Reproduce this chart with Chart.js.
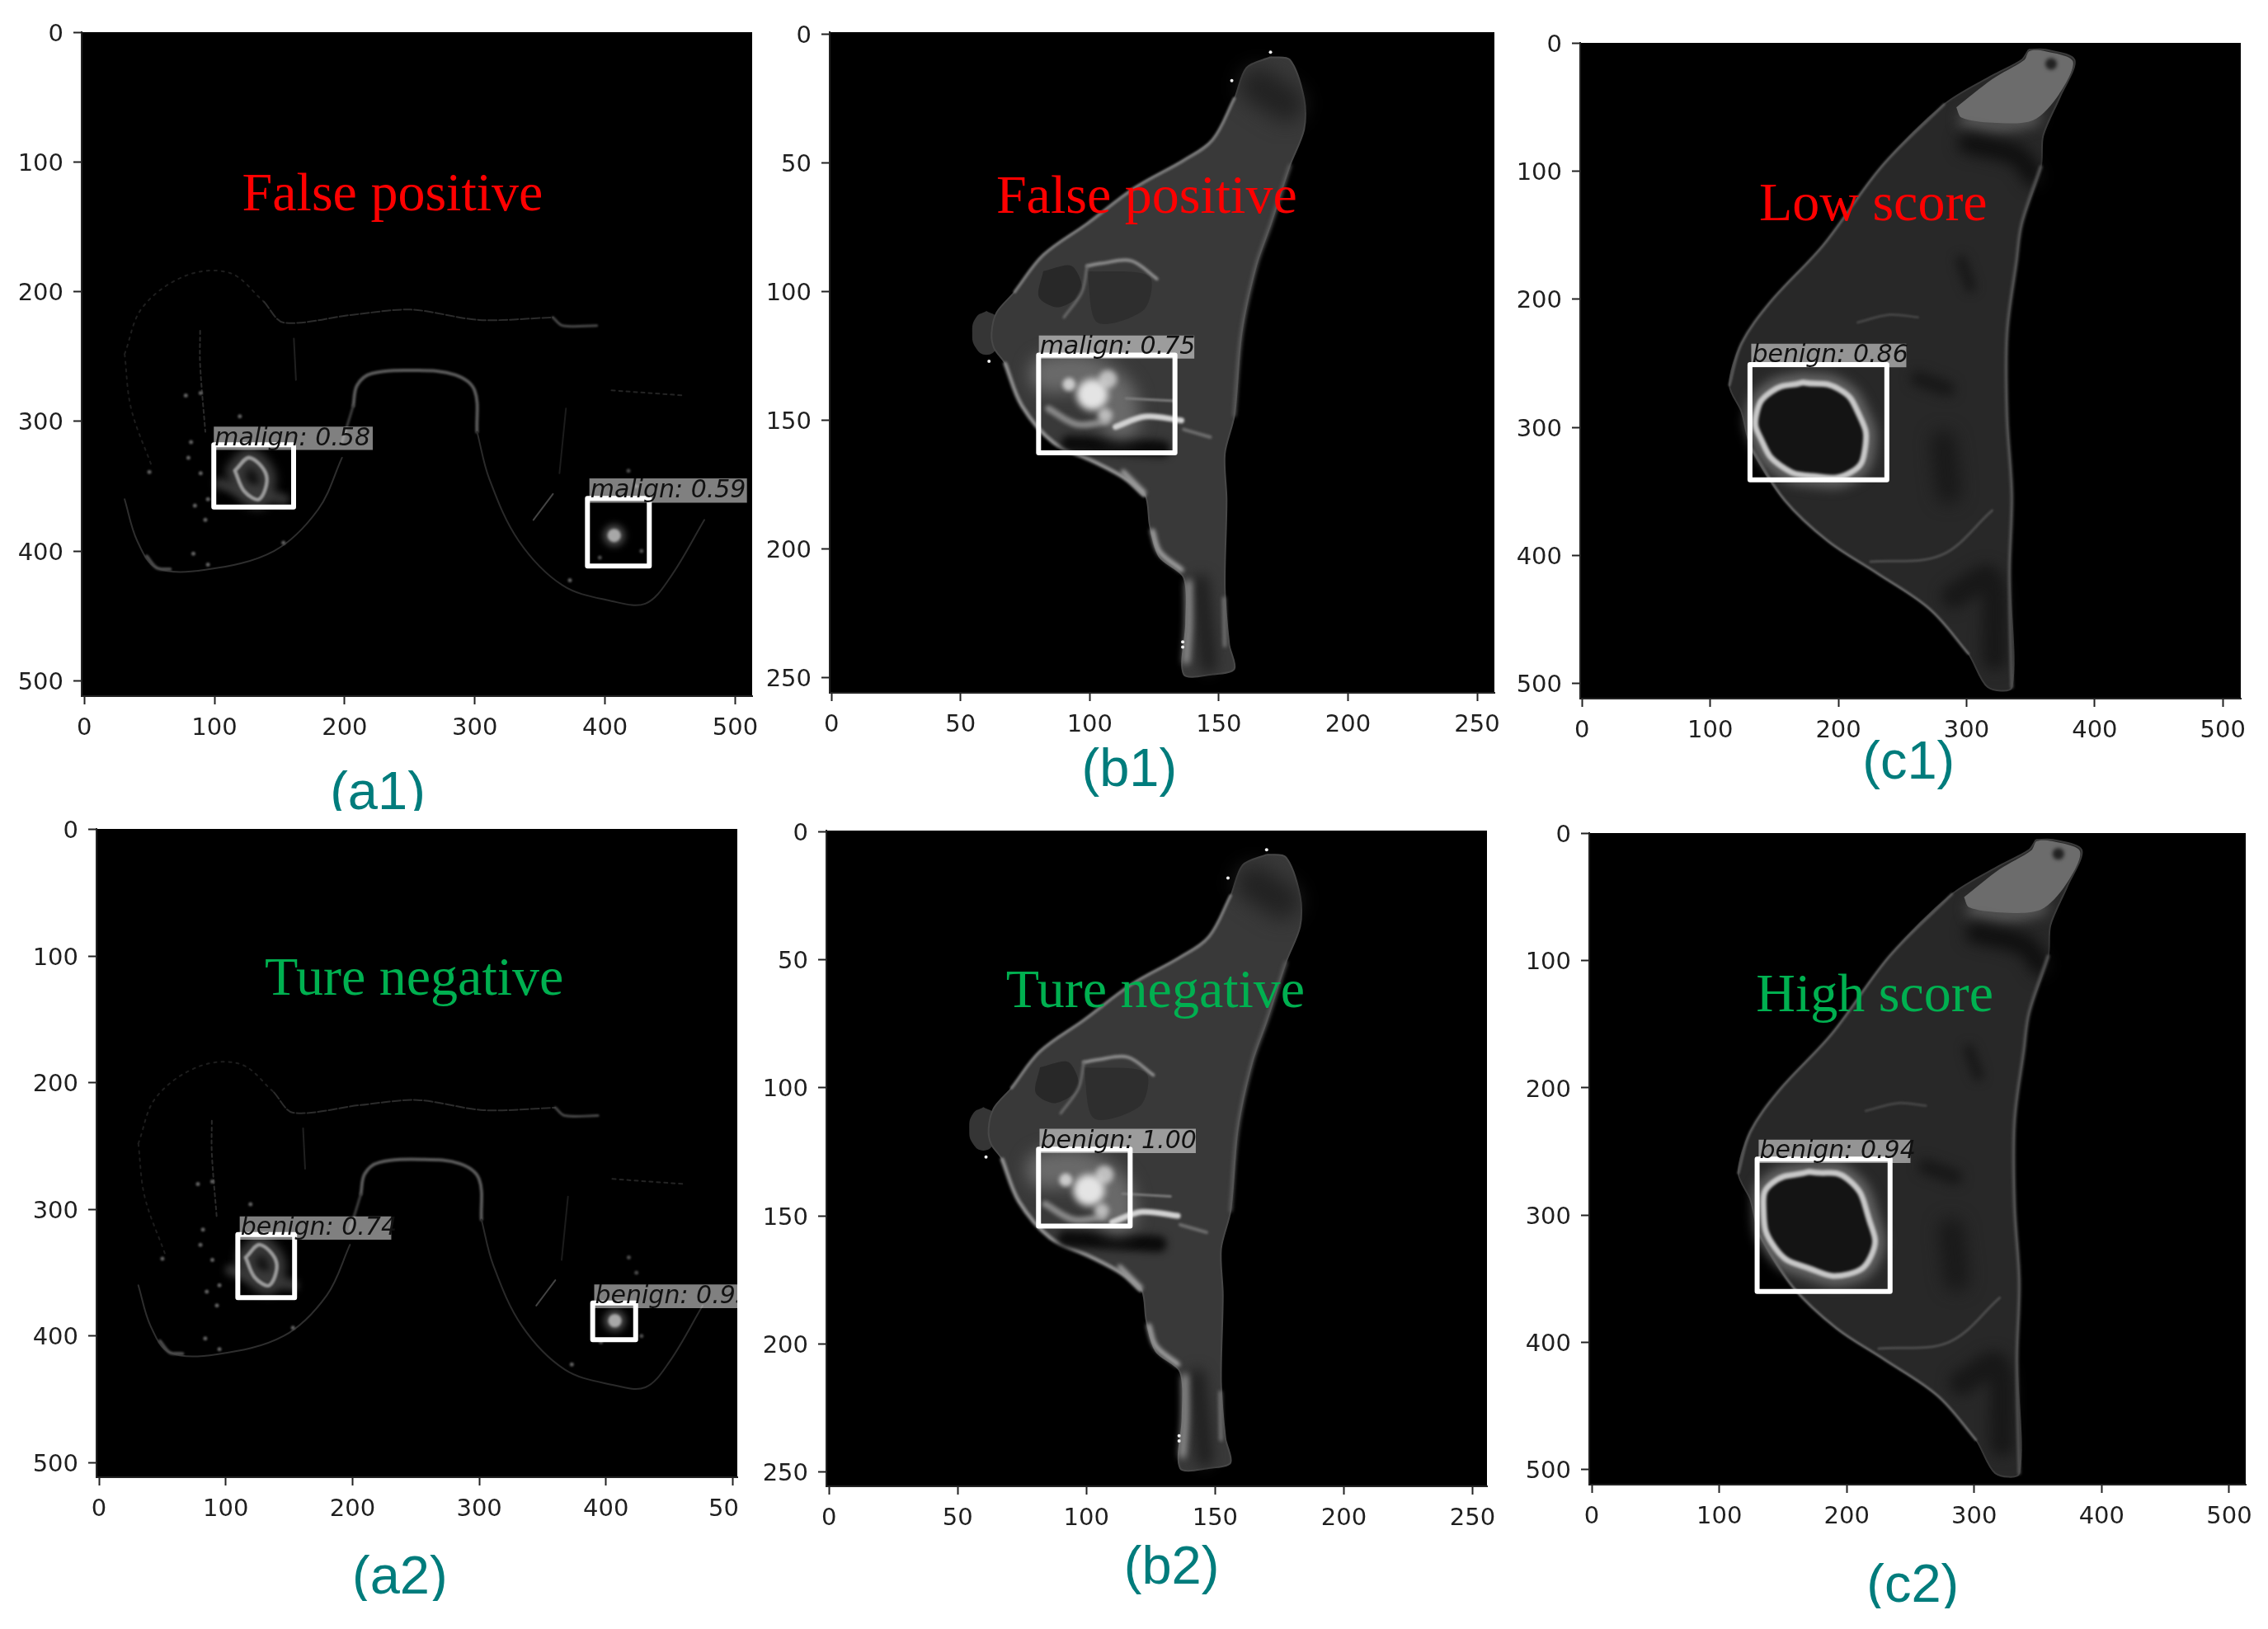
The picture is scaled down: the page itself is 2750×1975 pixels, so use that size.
<!DOCTYPE html>
<html><head><meta charset="utf-8">
<style>html,body{margin:0;padding:0;background:#fff;width:2750px;height:1975px;overflow:hidden}canvas{position:absolute}</style>
<script src="https://cdn.jsdelivr.net/npm/chart.js@4"></script>
</head><body>
<script>
// ---------- tick values ----------
const ticks512 = [0,100,200,300,400,500];
const ticks256 = [0,50,100,150,200,250];
const a2XLabels = ['0','100','200','300','400','50'];
// ---------- annotation texts ----------
const panelNames = ['a1','b1','c1','a2','b2','c2'];
const captions = ['(a1)','(b1)','(c1)','(a2)','(b2)','(c2)'];
const verdicts = ['False positive','False positive','Low score','Ture negative','Ture negative','High score'];
// ---------- detection boxes [x0,y0,x1,y1] in image coordinates ----------
const boxesA1 = [[99.5,318,160.8,366],[386.5,359.4,434,411.6]];
const boxesA2 = [[109.5,320,154.3,369.7],[389.5,374,423.4,403]];
const boxesB1 = [[80.2,124.6,133,162.6]];
const boxesB2 = [[81.4,124,117,154]];
const boxesC1 = [[131,251,237.8,341]];
const boxesC2 = [[129.7,256,234,360]];
const tagsA1 = [[99.5,304,221.6,322],[388,344,509,362.7]];
const tagsA2 = [[111,305.6,230.6,324],[390.7,359.4,503.6,378]];
const tagsB1 = [[80.3,117,140.5,126]];
const tagsB2 = [[81.8,116,142.5,125.5]];
const tagsC1 = [[132,234.7,253,253]];
const tagsC2 = [[130.9,240.7,250,259]];
const tagTextA1 = ['malign: 0.58','malign: 0.59'];
const tagTextA2 = ['benign: 0.74','benign: 0.95'];
const tagTextB1 = ['malign: 0.75'];
const tagTextB2 = ['benign: 1.00'];
const tagTextC1 = ['benign: 0.86'];
const tagTextC2 = ['benign: 0.94'];
// ---------- axial slice contours (a1, a2) ----------
const aChestLeft = [[31,248],[44.7,212],[78,187.5],[112,185.5],[138,207.6]];
const aChest = [[138,207.6],[153,223.7],[206,217.7],[251,213.7],[303.5,221.7],[360,219.7]];
const aLeftSide = [[31,248],[36,290],[52,335]];
const aArchTop = [[206.6,288],[209.6,272],[221,263],[254.7,260.6],[284.7,264],[299.8,276],[301.7,308]];
const aArchRight = [[301.7,308],[311,344],[333.6,392],[367.4,426.5],[405,438.6],[431,440.6],[450,420.5],[476.3,376]];
const aArchLeft = [[198,316],[206.6,288]];
const aLeftBreast = [[31,360],[40.6,392],[55.7,413],[93,414.5],[145.7,400],[179.6,368],[198,328]];
const aLeftSkin = [[48,404],[55.7,413],[66,414]];
const aRightFold = [[360,219.7],[367.4,226],[393.7,226]];
const aStrand1 = [[89,230],[89,256],[93,308]];
const aStrand2 = [[161,236],[162.6,268]];
const aStrand3 = [[405,276],[461,280]];
const aStrand4 = [[360,356],[345,376]];
const aStrand5 = [[370,290],[365,340]];
const aHaze = [[104,348],[118,352],[153,360]];
const aLeftDots = [[78,280],[89.4,278],[82,316],[89.4,340],[80,328],[50,339],[93,376],[83.8,402],[95,410.5],[153,393.6],[373,422.5],[119.5,296],[95,360],[85,365]];
const aRing = [[115.7,338],[127,328],[140,342],[134.5,360],[123,354],[115.7,338]];
const aLesion = [[407,388]];
const aLesionDots = [[418,338],[424,350],[396,405],[428,400]];
// ---------- sagittal slice, 256 scale (b1, b2) ----------
const bBody = [[170,8.9],[177.5,9.9],[183,25],[183,37],[177.5,51],[170,74],[164.4,90],[158.8,116],[156,148],[152.3,163],[153,181],[152.3,215],[154,237],[156,246.5],[147.6,248.6],[136.4,248.6],[137.3,229],[136.4,211],[127,203],[123.3,191],[121.5,179],[114,172.7],[101,165.7],[86,158.6],[73.8,144.4],[67.3,128],[63,122],[62,116],[64,108],[71,100],[82,85.8],[99,73.6],[117.7,59.5],[136.4,49],[147.6,41],[156,25],[160.7,13],[170,8.9]];
const bNipple = [[60,107.5],[64,110],[65.5,116],[64,122],[60,124.5],[56,122],[54.5,116],[56,110],[60,107.5]];
const bDarkTop = [[165,20],[176,27]];
const bDarkPocket1 = [[82,92],[93,90],[97,100],[88,106],[80.3,102],[82,92]];
const bDarkPocket2 = [[99,92],[123,94],[121,107],[103,112],[99,92]];
const bUpperSkin = [[71,100],[82,85.8],[99,73.6],[117.7,59.5],[136.4,49],[147.6,41],[156,25]];
const bLowerSkin = [[67.3,128],[73.8,144.4],[86,158.6],[101,165.7],[114,172.7],[121,179]];
const bRightSkin = [[156,148],[158.8,116],[164.4,90],[170,74],[177.5,51]];
const bDarkBand = [[92,159],[128,161]];
const bGlow = [[84,132],[98,132],[110,140],[112,150]];
const bLesionCore = [[101,140]];
const bLesionLeft = [[92,136]];
const bLesionUp = [[107,134]];
const bLesionDown = [[106,148]];
const bStreak1 = [[110,152.5],[121.5,148.5],[135.5,150]];
const bStreak2 = [[84,145.4],[95,151.5],[106.5,150.5]];
const bStreak3 = [[114,141.4],[132.7,142.4]];
const bStreak4 = [[136.4,153.5],[146.7,156.5]];
const bArc = [[99,90],[104.5,89],[116,88],[126,95]];
const bArcDown = [[99,90],[97,100],[90,110]];
const bLow1 = [[124.3,193],[127,201],[135.5,208]];
const bLow2 = [[138.3,213],[138.3,229.4],[137.3,243.5]];
const bLow3 = [[152,219],[152.3,237.5]];
const bLowDark = [[143,213],[146,245]];
const bFold = [[113,170],[121,178]];
const bSpecks = [[170,7],[155,18],[61,127],[136,236],[136,238]];
// ---------- sagittal slice, 512 scale (c1, c2) ----------
const cBody = [[348.5,4.9],[361.7,4.9],[384.3,13],[373,41.5],[359.8,72],[358,96.4],[343,141],[339,170],[331.6,226.6],[331.6,291.7],[335.3,352.7],[333.5,413.7],[335.3,503],[316.5,503],[301.4,476.8],[271.3,442],[229.8,413.7],[192,389],[158,356.8],[131.9,316],[124.3,287.6],[115,267],[124.3,234.7],[147,202],[188.4,157.4],[233.6,96.4],[282.6,47.6],[320.3,25],[342.9,13],[348.5,4.9]];
const cPatch = [[292,50],[320,28],[345,13],[349,6],[361,6],[383,14],[372,40],[352,60],[320,62],[296,58],[292,50]];
const cPatchGlow = [[300,60],[325,64],[352,58]];
const cHole = [[366,16]];
const cDark1 = [[301,78],[340,88],[352,104]];
const cDark2 = [[282,312],[286,350]];
const cDark3 = [[262,262],[285,270]];
const cDark4 = [[296,170],[303,190]];
const cLowerZone = [[290,432],[318,418],[322,480]];
const cUpperSkin = [[115,267],[124.3,234.7],[147,202],[188.4,157.4],[233.6,96.4],[282.6,47.6]];
const cLowerSkin = [[131.9,316],[158,356.8],[192,389],[229.8,413.7],[271.3,442],[301.4,476.8]];
const cRightSkin = [[358,96.4],[343,141],[339,170],[331.6,226.6],[331.6,291.7],[335.3,352.7],[333.5,413.7],[335.3,503]];
const cInnerArc = [[215,218],[240,212],[262,214]];
const cInnerCurve = [[225,405],[280,400],[320,365]];
const cRing1 = [[172,265],[200,270],[216,290],[221,315],[210,335],[180,338],[155,330],[140,310],[136,290],[148,272],[172,265]];
const cRing2 = [[170.7,266],[201,272],[218,305],[220,330],[201,346.5],[170.7,342],[144,326],[134.7,293],[142,274.5],[170.7,266]];

const pts = a => a.map(p => ({x:p[0], y:p[1]}));
const shape = (a,c,o={}) => ({data:pts(a),showLine:true,fill:'shape',backgroundColor:c,borderColor:o.stroke||'rgba(0,0,0,0)',borderWidth:o.width||0,tension:o.tension??0.3,pointRadius:0,blur:o.blur||0});
const line = (a,c,w,b=0,t=0.35,dash=[]) => ({data:pts(a),showLine:true,fill:false,borderColor:c,borderWidth:w,tension:t,pointRadius:0,borderCapStyle:'round',borderJoinStyle:'round',borderDash:dash,blur:b});
const dots = (a,c,r,b=0) => ({data:pts(a),showLine:false,backgroundColor:c,borderWidth:0,pointRadius:r,pointStyle:'circle',blur:b});

function aLayers(){return [
  line(aChestLeft,'#1e1e1e',2,0.6,0.35,[3,6]), line(aLeftSide,'#1c1c1c',2,0.6,0.35,[3,6]),
  line(aChest,'#2c2c2c',2,0.6,0.3,[10,3]), line(aStrand1,'#2a2a2a',2,0.6,0.35,[4,4]), line(aStrand2,'#202020',2,0.6), line(aStrand3,'#242424',2,0.6,0.35,[4,5]), line(aStrand5,'#1c1c1c',2,0.6),
  line(aArchTop,'#5a5a5a',4,1), line(aArchLeft,'#404040',3,1), line(aArchRight,'#2a2a2a',2,0.5),
  line(aLeftBreast,'#2e2e2e',2,0.5), line(aLeftSkin,'#4c4c4c',4,1), line(aRightFold,'#4a4a4a',3,0.8), line(aStrand4,'#444444',2,0.6),
  line(aHaze,'#343434',14,4), dots(aLeftDots,'#606060',2.5,0.8),
  dots(aLesionDots,'#4a4a4a',2.5,1)
];}
function bLayers(){return [
  shape(bNipple,'#353535',{tension:0.5}), shape(bBody,'#393939',{stroke:'#484848',width:2}),
  line(bDarkTop,'#222222',44,12), shape(bDarkPocket1,'#282828'), shape(bDarkPocket2,'#2e2e2e'),
  line(bUpperSkin,'#747474',4,1.2), line(bLowerSkin,'#8a8a8a',5,1.8), line(bRightSkin,'#5e5e5e',4,2),
  line(bDarkBand,'#0b0b0b',20,5), line(bLowDark,'#1f1f1f',20,8),
  line(bArc,'#8f8f8f',4,1.5), line(bArcDown,'#6f6f6f',3,1.5),
  line(bLow1,'#a8a8a8',6,2.5), line(bLow2,'#a8a8a8',7,4), line(bLow3,'#7c7c7c',4,2), line(bFold,'#a0a0a0',6,2.5),
  line(bGlow,'#6a6a6a',46,10),
  line(bStreak2,'#8a8a8a',8,2.5), line(bStreak3,'#7d7d7d',3,1), line(bStreak4,'#707070',4,1.5), line(bStreak1,'#d2d2d2',7,1.8),
  dots(bLesionUp,'#c0c0c0',11,3), dots(bLesionDown,'#bcbcbc',9,3), dots(bLesionLeft,'#cccccc',8,2.5), dots(bLesionCore,'#e4e4e4',19,4),
  dots(bSpecks,'#f0f0f0',2)
];}
function cLayers(ring){return [
  shape(cBody,'#282828',{stroke:'#3a3a3a',width:2}),
  line(cLowerZone,'#181818',30,8),
  line(cPatchGlow,'#5c5c5c',18,8), shape(cPatch,'#6c6c6c'), dots(cHole,'#222222',7,2),
  line(cDark1,'#0e0e0e',24,9), line(cDark2,'#191919',30,10), line(cDark3,'#171717',18,7), line(cDark4,'#191919',14,6),
  line(cUpperSkin,'#5c5c5c',3,1), line(cLowerSkin,'#666666',3,1), line(cRightSkin,'#525252',4,1.5),
  line(cInnerArc,'#464646',3,1.2), line(cInnerCurve,'#4e4e4e',3,1.2),
  line(ring,'#666666',24,7,0.5), shape(ring,'#141414',{tension:0.5}), line(ring,'#c8c8c8',7,1.8,0.5)
];}
function boxLayers(boxes,tags){
  const out=[];
  tags.forEach(r=>out.push(shape([[r[0],r[1]],[r[2],r[1]],[r[2],r[3]],[r[0],r[3]],[r[0],r[1]]],'rgba(255,255,255,0.5)',{tension:0})));
  boxes.forEach(r=>out.push(line([[r[0],r[1]],[r[2],r[1]],[r[2],r[3]],[r[0],r[3]],[r[0],r[1]]],'#ffffff',6,0,0)));
  return out;
}
const aRingLayers = () => [line(aRing,'#3a3a3a',22,6), line(aRing,'#9a9a9a',4.5,1), dots(aLesion,'#4c4c4c',13,4), dots(aLesion,'#a8a8a8',8,1.5)];

const panels = [
 {plot:[99,39,912,844],xr:[-2,513],yr:[-0.4,512],xt:ticks512,yt:ticks512,layers:[...aLayers(),...aRingLayers()],boxes:boxesA1,tags:tagsA1,tagText:tagTextA1,verdict:[476,255,'#ff0000'],cap:[458,981],capClip:983},
 {plot:[1005.7,39.1,1812,839.7],xr:[-0.7,256.7],yr:[-0.8,255.8],xt:ticks256,yt:ticks256,layers:bLayers(),boxes:boxesB1,tags:tagsB1,tagText:tagTextB1,verdict:[1390,258,'#ff0000'],cap:[1369,953]},
 {plot:[1915.7,51.8,2716.8,847.2],xr:[-1.5,514],yr:[-0.4,512],xt:ticks512,yt:ticks512,layers:cLayers(cRing1),boxes:boxesC1,tags:tagsC1,tagText:tagTextC1,verdict:[2271,267,'#ff0000'],cap:[2314,944]},
 {plot:[116.8,1005.4,893.8,1791],xr:[-2,503.6],yr:[-0.4,511.6],xt:ticks512,yt:ticks512,xl:a2XLabels,layers:[...aLayers(),...aRingLayers()],boxes:boxesA2,tags:tagsA2,tagText:tagTextA2,verdict:[502,1206,'#00b050'],cap:[484.6,1932]},
 {plot:[1002,1006.6,1803,1801.7],xr:[-1,255.6],yr:[-0.5,255.7],xt:ticks256,yt:ticks256,layers:bLayers(),boxes:boxesB2,tags:tagsB2,tagText:tagTextB2,verdict:[1401,1221,'#00b050'],cap:[1420.6,1920]},
 {plot:[1926.8,1009.8,2723,1799.8],xr:[-2,513],yr:[-0.4,512],xt:ticks512,yt:ticks512,layers:cLayers(cRing2),boxes:boxesC2,tags:tagsC2,tagText:tagTextC2,verdict:[2273,1226,'#00b050'],cap:[2319,1942]}
];
const mL=95,mT=30,mR=27,mB=150;
const tickFont={family:'"DejaVu Sans"',size:29};

const slicePlugin={
  id:'slice',
  beforeDraw(ch){
    const a=ch.chartArea,c=ch.ctx;
    c.save();c.fillStyle='#000';c.fillRect(a.left,a.top,a.right-a.left,a.bottom-a.top);c.restore();
    const p=ch.config.options.plugins.slice.panel;
    ch.scales.y.getLabelItems(a).forEach(it=>{it.options.translation[1]+=3;});
    if(p.xl){const it=ch.scales.x.getLabelItems(a);const last=it[it.length-1];if(last)last.options.translation[0]-=11;}
  },
  beforeDatasetDraw(ch,args){
    ch.ctx.save();
    const b=ch.data.datasets[args.index].blur;
    if(b)ch.ctx.filter='blur('+b+'px)';
  },
  afterDatasetDraw(ch){ch.ctx.restore();},
  afterDraw(ch){
    const p=ch.config.options.plugins.slice.panel,c=ch.ctx,a=ch.chartArea,ox=p.plot[0]-mL,oy=p.plot[1]-mT;
    const X=ch.scales.x,Y=ch.scales.y;
    c.save();
    c.beginPath();c.rect(a.left,a.top,a.right-a.left,a.bottom-a.top);c.clip();
    c.font='italic 30px "DejaVu Sans"';c.fillStyle='#111';c.textAlign='left';c.textBaseline='alphabetic';
    p.tags.forEach((r,i)=>c.fillText(p.tagText[i],X.getPixelForValue(r[0])+1,Y.getPixelForValue(r[3])-6));
    c.restore();
    c.save();
    c.font='66px "Liberation Serif"';c.fillStyle=p.verdict[2];c.textAlign='center';c.textBaseline='alphabetic';
    c.fillText(p.verdictText,p.verdict[0]-ox,p.verdict[1]-oy);
    c.restore();
    c.save();
    if(p.capClip){c.beginPath();c.rect(0,0,ch.width,p.capClip-oy);c.clip();}
    c.font='65px "Liberation Sans"';c.fillStyle='#007c7c';c.textAlign='center';c.textBaseline='alphabetic';
    c.fillText(p.capText,p.cap[0]-ox,p.cap[1]-oy);
    c.restore();
  }
};

panels.forEach((p,i)=>{
  p.verdictText=verdicts[i];p.capText=captions[i];
  const cv=document.createElement('canvas');
  const w=Math.round(p.plot[2]-p.plot[0])+mL+mR,h=Math.round(p.plot[3]-p.plot[1])+mT+mB;
  cv.width=w;cv.height=h;cv.id='panel-'+panelNames[i];
  cv.style.left=(p.plot[0]-mL)+'px';cv.style.top=(p.plot[1]-mT)+'px';cv.style.width=w+'px';cv.style.height=h+'px';
  document.body.appendChild(cv);
  const order=[...p.layers,...boxLayers(p.boxes,p.tags)];
  order.forEach((d,k)=>{d.order=order.length-k;});
  new Chart(cv,{
    type:'scatter',
    data:{datasets:order},
    plugins:[slicePlugin],
    options:{
      responsive:false,animation:false,devicePixelRatio:1,events:[],
      layout:{padding:{top:mT,right:mR,left:0,bottom:0}},
      plugins:{legend:{display:false},tooltip:{enabled:false},title:{display:false},slice:{panel:p}},
      scales:{
        x:{type:'linear',min:p.xr[0],max:p.xr[1],
           afterBuildTicks(s){s.ticks=p.xt.map(v=>({value:v}));},
           afterFit(s){s.height=mB;},
           grid:{drawOnChartArea:false,drawTicks:true,tickLength:10,tickColor:'#222',tickWidth:2},
           border:{color:'#222',width:2},
           ticks:{font:tickFont,color:'#1f1f1f',padding:12,autoSkip:false,maxRotation:0,
                  callback(v){return p.xl?p.xl[p.xt.indexOf(v)]:String(v);}}},
        y:{type:'linear',reverse:true,min:p.yr[0],max:p.yr[1],
           afterBuildTicks(s){s.ticks=p.yt.map(v=>({value:v}));},
           afterFit(s){s.width=mL;},
           grid:{drawOnChartArea:false,drawTicks:true,tickLength:10,tickColor:'#222',tickWidth:2},
           border:{color:'#222',width:2},
           ticks:{font:tickFont,color:'#1f1f1f',padding:12,autoSkip:false,
                  callback(v){return String(v);}}}
      }
    }
  });
});
</script>
</body></html>
